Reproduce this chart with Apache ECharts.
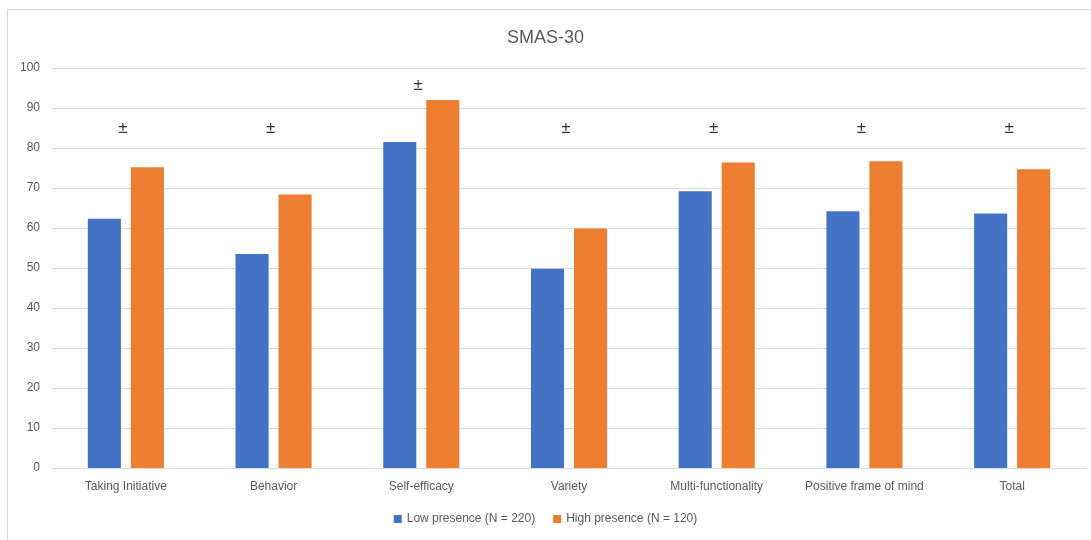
<!DOCTYPE html>
<html>
<head>
<meta charset="utf-8">
<script src="https://cdn.jsdelivr.net/npm/echarts@6/dist/echarts.min.js"></script>
<style>
html,body{margin:0;padding:0;background:#fff;}
#chart{width:1091px;height:540px;}
</style>
</head>
<body>
<div id="chart"></div>
<script>
const categories = ['Taking Initiative','Behavior','Self-efficacy','Variety','Multi-functionality','Positive frame of mind','Total'];
const lowPresence = [62.3, 53.5, 81.5, 49.8, 69.2, 64.2, 63.6];
const highPresence = [75.2, 68.4, 92.0, 59.9, 76.4, 76.7, 74.7];
const markerPositions = [85, 85, 95.7, 85, 85, 85, 85];
const yTicks = [0,10,20,30,40,50,60,70,80,90,100];

const chart = echarts.init(document.getElementById('chart'));
const font = 'Liberation Sans, Arial, sans-serif';
chart.setOption({
  animation: false,
  backgroundColor: '#fff',
  graphic: [{
    type: 'rect',
    shape: {x: 7.5, y: 9.5, width: 1100, height: 560},
    style: {fill: 'none', stroke: '#d9d9d9', lineWidth: 1},
    silent: true
  }],
  title: {
    text: 'SMAS-30',
    left: 'center',
    top: 24,
    textStyle: {fontFamily: font, fontSize: 18, fontWeight: 'normal', color: '#595959'}
  },
  legend: {
    data: ['Low presence (N = 220)', 'High presence (N = 120)'],
    bottom: 10,
    left: 'center',
    itemWidth: 8,
    itemHeight: 8,
    itemGap: 18,
    icon: 'rect',
    textStyle: {fontFamily: font, fontSize: 12, color: '#595959'}
  },
  grid: {left: 52, right: 5, top: 68, bottom: 72, containLabel: false},
  xAxis: {
    type: 'category',
    data: categories,
    axisLine: {lineStyle: {color: '#d9d9d9'}},
    axisTick: {show: false},
    axisLabel: {fontFamily: font, fontSize: 12, color: '#595959', margin: 13, interval: 0}
  },
  yAxis: {
    type: 'value',
    min: yTicks[0],
    max: yTicks[yTicks.length - 1],
    interval: 10,
    axisLine: {show: false},
    axisTick: {show: false},
    axisLabel: {fontFamily: font, fontSize: 12, color: '#595959', margin: 12},
    splitLine: {lineStyle: {color: '#d9d9d9'}}
  },
  series: [
    {
      name: 'Low presence (N = 220)',
      type: 'bar',
      data: lowPresence,
      barWidth: '22.4%',
      barGap: '30%',
      itemStyle: {color: '#4472C4'}
    },
    {
      name: 'High presence (N = 120)',
      type: 'bar',
      data: highPresence,
      barWidth: '22.4%',
      barGap: '30%',
      itemStyle: {color: '#ED7D31'}
    },
    {
      name: 'marker',
      type: 'scatter',
      data: markerPositions,
      symbolSize: 1,
      itemStyle: {color: 'rgba(0,0,0,0)'},
      label: {
        show: true,
        position: 'inside',
        offset: [-3, 0],
        formatter: '±',
        fontFamily: font,
        fontSize: 17,
        color: '#000'
      },
      silent: true
    }
  ]
});
</script>
</body>
</html>
